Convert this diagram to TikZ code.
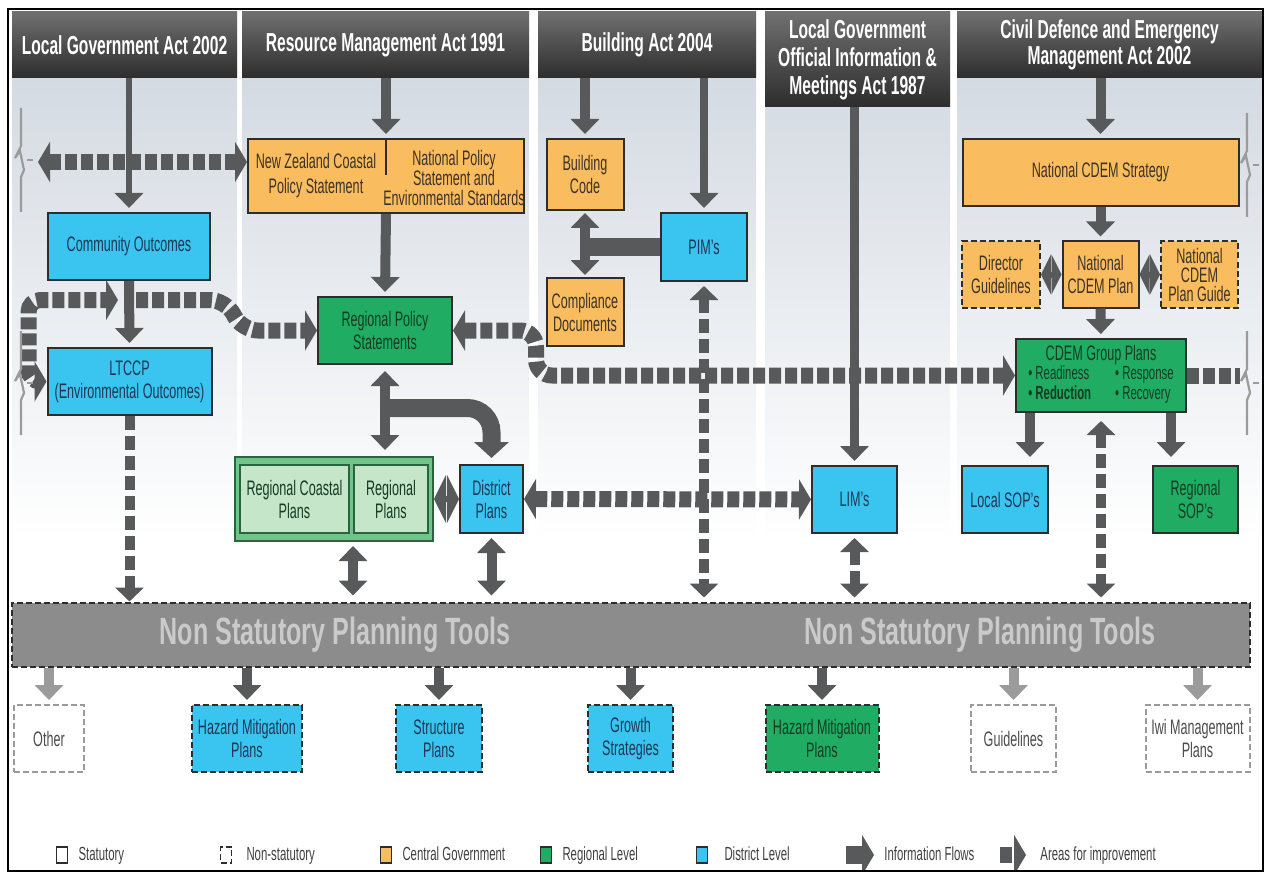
\documentclass[tikz,border=0pt]{standalone}
\usepackage{fontspec}
\setmainfont{Liberation Sans}[FakeStretch=0.6]
\newfontfamily\barfont{Liberation Sans}[FakeStretch=0.66]
\usepackage{tikz}
\usetikzlibrary{arrows.meta, calc, positioning}
\usepackage{xcolor}
\definecolor{cgorange}{RGB}{249,189,96}
\definecolor{dblue}{RGB}{58,196,240}
\definecolor{rgreen}{RGB}{32,172,98}
\definecolor{rlight}{RGB}{198,230,202}
\definecolor{rmid}{RGB}{112,196,138}
\definecolor{rdark}{RGB}{40,100,60}
\definecolor{flowgray}{RGB}{88,89,91}
\definecolor{palegray}{RGB}{155,155,155}
\definecolor{bartone}{RGB}{140,140,140}
\definecolor{bartext}{RGB}{202,202,202}
\definecolor{bgtop}{RGB}{206,213,222}
\definecolor{hdrtop}{RGB}{112,112,112}
\definecolor{hdrmid}{RGB}{78,78,78}
\definecolor{hdrbot}{RGB}{45,45,45}
\definecolor{boxline}{RGB}{45,45,45}
\definecolor{txtblue}{RGB}{30,55,85}
\definecolor{txtgreen}{RGB}{20,60,35}
\definecolor{txtorange}{RGB}{60,50,35}

\begin{document}
\begin{tikzpicture}[x=0.5pt, y=-0.5pt,
  hdr/.style={top color=hdrtop, bottom color=hdrbot, middle color=hdrmid, text=white,
              font=\fontsize{13}{14}\selectfont\bfseries, align=center, inner sep=0pt},
  box/.style={draw=boxline, line width=1pt, align=center, inner sep=1pt,
              font=\fontsize{10.5}{11.5}\selectfont},
  central/.style={box, fill=cgorange, text=txtorange},
  district/.style={box, fill=dblue, text=txtblue},
  regional/.style={box, fill=rgreen, text=txtgreen},
  subplan/.style={box, fill=rlight, draw=rdark, text=txtgreen},
  nonstat/.style={dash pattern=on 3pt off 1.5pt},
  openbox/.style={box, fill=white, draw=palegray, text=black!70, nonstat},
  flowtip/.tip={Triangle[width=14pt, length=7.5pt]},
  bigtip/.tip={Triangle[width=17pt, length=8pt]},
  dbltip/.tip={Triangle[width=20pt, length=5pt]},
  widetip/.tip={Triangle[width=24pt, length=6pt]},
  imptip/.tip={Triangle[width=20pt, length=6pt]},
  vtip/.tip={Triangle[width=14pt, length=7pt]},
  flow/.style={draw=flowgray, line width=5pt, -flowtip, shorten >=2pt},
  imp/.style={draw=flowgray, line width=8pt, dash pattern=on 6pt off 2pt},
  impv/.style={draw=flowgray, line width=5pt, dash pattern=on 7pt off 3pt},
  brk/.style={draw=palegray, line width=1.1pt, line join=miter},
  legsq/.style={draw=boxline, line width=0.6pt, minimum width=5.5pt, minimum height=8pt, inner sep=0pt},
  legtxt/.style={font=\fontsize{9.5}{11}\selectfont, text=black!75, inner sep=0pt, text height=7pt, text depth=2pt}
]
  \useasboundingbox (0,0) rectangle (1265,872);
  \foreach \xa/\xb in {12/237, 242/529, 538/756, 765/950, 957/1262}
    \shade[top color=bgtop, bottom color=white] (\xa,12) rectangle (\xb,540);

  \node[hdr, minimum width=112.5pt, minimum height=33pt] (hlga)  at (124.5,45)  {Local Government Act 2002};
  \node[hdr, minimum width=143.5pt, minimum height=33pt] (hrma)  at (385.5,45)  {Resource Management Act 1991};
  \node[hdr, minimum width=109pt,   minimum height=33pt] (hba)   at (647,45)    {Building Act 2004};
  \node[hdr, minimum width=92.5pt,  minimum height=47.5pt] (hoim) at (857.5,59.5) {Local Government\\Official Information \&\\Meetings Act 1987};
  \node[hdr, minimum width=152.5pt, minimum height=33pt] (hcdem) at (1109.5,45) {Civil Defence and Emergency\\[-1pt]Management Act 2002};

  \node[district, minimum width=81pt, minimum height=33.5pt] (comm)  at (129,246.5) {Community Outcomes};
  \node[district, minimum width=82pt, minimum height=33.5pt] (ltccp) at (129.5,381.5) {LTCCP\\(Environmental Outcomes)};
  \node[central, minimum width=138pt, minimum height=37pt]   (nzcps) at (386,176) {};
  \node[text=txtorange, align=center, font=\fontsize{10.5}{12.5}\selectfont] (nzcpsl) at (316,176) {New Zealand Coastal\\Policy Statement};
  \node[text=txtorange, align=center, font=\fontsize{10.5}{10}\selectfont] (npsr) at (454,178) {National Policy\\Statement and\\Environmental Standards};
  \draw[boxline, line width=0.6pt] (nzcps.north) -- ++(0,37);
  \node[central, minimum width=38.5pt, minimum height=35.5pt] (bcode)  at (585,174.5) {Building\\Code};
  \node[district, minimum width=43pt, minimum height=34pt]   (pims)   at (704,247) {PIM's};
  \node[central, minimum width=38.5pt, minimum height=34pt]  (comply) at (585,312) {Compliance\\Documents};
  \node[regional, minimum width=67pt, minimum height=33.5pt] (rps)    at (385,330.5) {Regional Policy\\Statements};
  \node[box, fill=rmid, draw=rdark, minimum width=99pt, minimum height=42pt] (regrp) at (334,499) {};
  \node[subplan, minimum width=54.5pt, minimum height=34pt] (rcp) at (294.5,499) {Regional Coastal\\Plans};
  \node[subplan, minimum width=37pt, minimum height=34pt]   (rp)  at (391,499) {Regional\\Plans};
  \node[district, minimum width=31.5pt, minimum height=34pt]  (dplans) at (491.5,499) {District\\Plans};
  \node[district, minimum width=42.5pt, minimum height=33.5pt] (lims)  at (854.5,499.5) {LIM's};
  \node[district, minimum width=43pt, minimum height=33.5pt]   (lsop)  at (1005,499.5) {Local SOP's};
  \node[regional, minimum width=42.5pt, minimum height=33.5pt] (rsop)  at (1195.5,499.5) {Regional\\SOP's};
  \node[central, minimum width=138pt, minimum height=33.5pt] (strat)  at (1100.5,172.5) {National CDEM Strategy};
  \node[central, nonstat, minimum width=39pt, minimum height=33pt]   (dguide) at (1001,274.5) {Director\\Guidelines};
  \node[central, minimum width=38pt, minimum height=33pt]            (ncplan) at (1100.5,274.5) {National\\CDEM Plan};
  \node[central, nonstat, minimum width=38.5pt, minimum height=33pt] (pguide) at (1199.5,274.5) {National\\[-2pt]CDEM\\[-2pt]Plan Guide};
  \node[regional, minimum width=85pt, minimum height=36.5pt] (cdemgp) at (1101,375.5)
    {CDEM Group Plans\\[-1pt]{\fontsize{9.5}{10}\selectfont\begin{tabular}{@{}l@{\hspace{12pt}}l@{}}\textbullet{} Readiness & \textbullet{} Response\\ \textbf{\textbullet{} Reduction} & \textbullet{} Recovery\end{tabular}}};

  \node[draw=boxline, nonstat, fill=bartone, line width=1pt, minimum width=619pt, minimum height=32pt, inner sep=0pt] (nst) at (631,634.5) {};
  \node[text=bartext, font=\barfont\fontsize{19}{20}\selectfont\bfseries] (nstl) at (335,635) {Non Statutory Planning Tools};
  \node[text=bartext, font=\barfont\fontsize{19}{20}\selectfont\bfseries] (nstr) at (980,635) {Non Statutory Planning Tools};

  \node[openbox, minimum width=35pt, minimum height=33.5pt]           (other)  at (49,738.5)   {Other};
  \node[district, nonstat, minimum width=55pt, minimum height=33.5pt] (hmpd)   at (247,738.5)  {Hazard Mitigation\\Plans};
  \node[district, nonstat, minimum width=43pt, minimum height=33.5pt] (struct) at (439,738.5)  {Structure\\Plans};
  \node[district, nonstat, minimum width=42.5pt, minimum height=33.5pt] (growth) at (630.5,738.5) {Growth\\Strategies};
  \node[regional, nonstat, minimum width=56.5pt, minimum height=33.5pt] (hmpr) at (822,738.5) {Hazard Mitigation\\Plans};
  \node[openbox, minimum width=42.5pt, minimum height=33.5pt]         (guide)  at (1013.5,738.5) {Guidelines};
  \node[openbox, minimum width=52pt, minimum height=33.5pt]           (iwi)    at (1197.5,738.5) {Iwi Management\\Plans};

  \coordinate (brkA) at (38,162);
  \coordinate (brkD) at (1240,375.5);
  \draw[imp, imptip-imptip] (brkA) -- (brkA -| nzcps.west);
  \draw[imp, imptip-imptip, rounded corners=6pt] (ltccp.west) -- ++(-18,0) |- (118,300);
  \draw[imp, -imptip, rounded corners=8pt] (136,300) -- (226,300) -- (242,330.5) -- (rps.west);
  \draw[imp, imptip-imptip, rounded corners=8pt] (rps.east) -- (536,330.5) |- (cdemgp.west);
  \draw[imp] (cdemgp.east) -- (brkD);
  \draw[imp, imptip-imptip] (dplans.east) -- (lims.west);
  \draw[impv, -vtip] (ltccp.south) -- (ltccp.south |- nst.north);
  \draw[impv, vtip-vtip, shorten <=2pt, shorten >=2pt] (pims.south) -- (pims.south |- nst.north);
  \draw[impv, vtip-vtip, shorten <=2pt, shorten >=2pt] (lims.south) -- (lims.south |- nst.north);
  \draw[impv, vtip-vtip, shorten <=4pt, shorten >=2pt] (cdemgp.south) -- (cdemgp.south |- nst.north);

  \draw[flow, line width=3pt] (comm.north |- hlga.south) -- (comm.north);
  \draw[flow] (comm.south) -- (ltccp.north);
  \draw[flow] (nzcps.north |- hrma.south) -- (nzcps.north);
  \draw[flow] (nzcps.south) -- (rps.north);
  \draw[flow, flowtip-flowtip, shorten <=3pt, shorten >=3pt] (rps.south) -- (rps.south |- regrp.north);
  \draw[flow, line width=9pt, rounded corners=12pt, -bigtip, shorten >=3pt] ($(rps.south)+(0,43)$) -| (dplans.north);
  \draw[flow, widetip-widetip, line width=3pt, shorten >=0pt] (regrp.east) -- (dplans.west);
  \draw[flow, flowtip-flowtip, shorten <=2pt, shorten >=3pt] (rp.west |- regrp.south) -- (rp.west |- nst.north);
  \draw[flow, flowtip-flowtip, shorten <=2pt, shorten >=3pt] (dplans.south) -- (dplans.south |- nst.north);
  \draw[flow] (bcode.north |- hba.south) -- (bcode.north);
  \draw[flow, line width=4pt] (pims.north |- hba.south) -- (pims.north);
  \draw[flow, flowtip-flowtip, shorten <=1pt, shorten >=1pt] (bcode.south) -- (comply.north);
  \draw[flowgray, line width=9pt] (pims.west) -- (pims.west -| bcode.south);
  \draw[flow, line width=4.5pt] (lims.north |- hoim.south) -- (lims.north);
  \draw[flow] (strat.north |- hcdem.south) -- (strat.north);
  \draw[flow] (strat.south) -- (ncplan.north);
  \draw[flow, dbltip-dbltip, line width=3pt, shorten >=0pt] (dguide.east) -- (ncplan.west);
  \draw[flow, dbltip-dbltip, line width=3pt, shorten >=0pt] (ncplan.east) -- (pguide.west);
  \draw[flow] (ncplan.south) -- (cdemgp.north);
  \coordinate (gpl) at ($(cdemgp.south west)+(15,0)$);
  \coordinate (gpr) at ($(cdemgp.south east)+(-16,0)$);
  \draw[flow, shorten >=4pt] (gpl) -- (gpl |- lsop.north);
  \draw[flow, shorten >=4pt] (gpr) -- (gpr |- rsop.north);
  \foreach \b in {hmpd, struct, growth, hmpr}
    \draw[flow] (\b.north |- nst.south) -- (\b.north);
  \foreach \b in {other, guide, iwi}
    \draw[flow, draw=palegray] (\b.north |- nst.south) -- (\b.north);

  \foreach \bx/\by in {21/160, 21/383, 1247/165, 1247/383} {
    \draw[brk] (\bx,\by-52) -- (\bx,\by-14) -- (\bx-6,\by-2) -- (\bx-1,\by-9)
      -- (\bx+3,\by+10) -- (\bx,\by+17) -- (\bx,\by+52);
    \draw[brk] (\bx+6,\by) -- (\bx+12,\by);
  }

  \node[legsq, fill=white] (kstat) at (62,855) {};
  \node[legtxt, right=5pt of kstat] (kstatl) {Statutory};
  \node[legsq, fill=white, nonstat] (knon) at (226,855) {};
  \node[legtxt, right=7pt of knon] (knonl) {Non-statutory};
  \node[legsq, fill=cgorange] (kcen) at (386,855) {};
  \node[legtxt, right=5pt of kcen] (kcenl) {Central Government};
  \node[legsq, fill=rgreen] (kreg) at (546,855) {};
  \node[legtxt, right=5pt of kreg] (kregl) {Regional Level};
  \node[legsq, fill=dblue] (kdis) at (702,855) {};
  \node[legtxt, right=8pt of kdis] (kdisl) {District Level};
  \coordinate (kflow) at (846,855);
  \draw[draw=flowgray, line width=9pt, -{Triangle[width=20pt, length=6pt]}] (kflow) -- ++(28,0) coordinate (kflowe);
  \node[legtxt, right=5pt of kflowe] (kflowl) {Information Flows};
  \coordinate (kimp) at (1000,855);
  \draw[draw=flowgray, line width=8pt, dash pattern=on 6pt off 1.5pt, -{Triangle[width=20pt, length=6pt]}] (kimp) -- ++(26,0) coordinate (kimpe);
  \node[legtxt, right=7pt of kimpe] (kimpl) {Areas for improvement};

  \draw[line width=1.2pt] (8,9) rectangle (1263,871);
\end{tikzpicture}
\end{document}
